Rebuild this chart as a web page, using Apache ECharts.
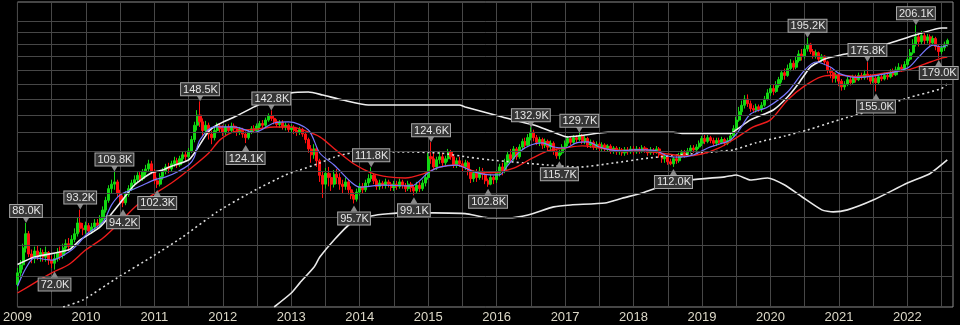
<!DOCTYPE html>
<html><head><meta charset="utf-8">
<script src="https://cdn.jsdelivr.net/npm/echarts@6/dist/echarts.min.js"></script>
<style>html,body{margin:0;padding:0;background:#000;}#c{width:960px;height:325px;}</style>
</head><body><div id="c"></div>
<script>
// ---------- x categories (semi-monthly) and tick labels ----------
const firstYear = 2009, lastCategory = '2022-09-01';
const yearTicks = ['2009','2010','2011','2012','2013','2014','2015','2016','2017','2018','2019','2020','2021','2022'];
const categories = [];
(function(){
  for (let y = firstYear; y <= 2022; y++) for (let m = 1; m <= 12; m++) for (const d of ['01','16']) {
    const s = y + '-' + String(m).padStart(2,'0') + '-' + d;
    if (categories.length && categories[categories.length-1] === lastCategory) return;
    categories.push(s);
  }
})();
// horizontal grid values (K)
const gridValues = [70,80,90,100,110,120,130,140,150,160,170,180,190,200,210];

// ---------- candles [open, close, low, high] in K, semi-monthly ----------
const c2009 = [[67.5,71,66,72.5],[71,73.5,69.5,75],[73.5,79,72,80.5],[79,84,77.5,88.0],[84,77,76,85],[77,75.5,74,78.5],[75.5,78,74,79.5],[78,76.5,75,80],[76.5,77.5,74.5,79],[77.5,76,74.5,78.5],[76,77.5,74.5,79.5],[77.5,75,73.5,78],[75,74,72.5,76.5],[74,75.5,72.0,77],[75.5,77.5,74.5,79],[77.5,76.5,75,79.5],[76.5,79,75.5,80.5],[79,80.5,77.5,82],[80.5,79.5,78,82.5],[79.5,82,78.5,83.5],[82,84,81,86],[84,88,83,90],[88,86,84.5,93.2],[86,85.5,83.5,88]];
const c2010 = [[85.5,87,84,88.5],[87,85,83.5,88],[85,86.5,84,88],[86.5,88,85,89.5],[88,87,85.5,89.5],[87,89.5,86,91],[89.5,93,88.5,94.5],[93,97,92,98.5],[97,102,96,103.5],[102,104,100,106],[104,105,101.5,109.8],[105,100,98.5,106],[100,97.5,96,101.5],[97.5,96,94.2,99],[96,99.5,95,101],[99.5,102,98.5,103.5],[102,104.5,101,106],[104.5,106,103,108],[106,108,104.5,109.5],[108,106.5,105,109.5],[106.5,109.5,105.5,111],[109.5,111,108,113],[111,113.5,110,115.5],[113.5,110,108.5,115]];
const c2011 = [[110,105.5,104,111],[105.5,104,102.3,107],[104,107.5,103,109],[107.5,110,106,111.5],[110,112,108.5,113.5],[112,111,109,114],[111,113.5,110,115],[113.5,115,112,117],[115,113,111.5,116.5],[113,116,112,117.5],[116,118,114.5,119.5],[118,117,115,120],[117,120,116,121.5],[120,126,119,128],[126,134,124.5,136],[134,140,131,143],[140,136,133,148.5],[136,131,128,138],[131,134,128,136.5],[134,129,126,135.5],[129,127,123.5,131],[127,131,125.5,133],[131,133.5,129.5,135.5],[133.5,132,130,135]];
const c2012 = [[132,130,128,134],[130,133,128.5,134.5],[133,131,129.5,134.5],[131,133.5,130,135.5],[133.5,132,129.5,135],[132,130,128,133.5],[130,131.5,128.5,133],[131.5,129,127,132.5],[129,127,124.1,130.5],[127,130,126,131.5],[130,132,129,133.5],[132,131,129.5,134],[131,133.5,130.5,135],[133.5,135,132,136.5],[135,134,132.5,137],[134,137,133,138.5],[137,139.5,136,141],[139.5,138,136.5,142.8],[138,136,134.5,140],[136,134.5,133,137.5],[134.5,135.5,132.5,137],[135.5,133,131.5,137],[133,134,131,135.5],[134,131.5,130,135]];
const c2013 = [[131.5,132.5,130,134.5],[132.5,131,129,134],[131,130,128,132.5],[130,131.5,128.5,133],[131.5,129,127.5,132.5],[129,126,124,130],[126,121,119,127],[121,118,114,123],[118,121,116,123.5],[121,115,112,122],[115,108,105,116],[108,104,98,110],[104,109,102,111.5],[109,107,103,112],[107,104,101,109],[104,108.5,102.5,110.5],[108.5,107,104,111],[107,104,101.5,109],[104,103,100,106],[103,105,101.5,107],[105,101.5,99.5,106],[101.5,99,97.5,103],[99,97.5,95.7,100.5],[97.5,100.5,96.5,102]];
const c2014 = [[100.5,103,99,104.5],[103,101.5,100,104.5],[101.5,104.5,100.5,106],[104.5,106.5,103,108.5],[106.5,108,105,111.8],[108,105.5,104,109],[105.5,103,101.5,106.5],[103,104.5,101.5,106],[104.5,103.5,102,105.5],[103.5,105,102,106.5],[105,104,102.5,106],[104,102.5,101,105],[102.5,104,101,105.5],[104,103,101.5,105.5],[103,105,102,106.5],[105,103.5,102,106],[103.5,102,100.5,104.5],[102,104,101,105.5],[104,102.5,100.5,105],[102.5,101,99.1,103.5],[101,103.5,100,105],[103.5,102,100.5,105],[102,104.5,101,106],[104.5,107,103,109]];
const c2015 = [[107,117,106,119],[117,116,113.5,124.6],[116,112,110.5,119],[112,115.5,110.5,117],[115.5,117,113.5,120],[117,114,112,119],[114,116,112.5,117.5],[116,119.5,114.5,121],[119.5,117,115.5,120.5],[117,113,111.5,118],[113,115,111.5,116.5],[115,113.5,112,117],[113.5,112,110,115],[112,114,110.5,115.5],[114,110,108,115],[110,106.5,104.5,111],[106.5,109,105,110.5],[109,107,105,111],[107,110,106,112],[110,108.5,106,111.5],[108.5,105.5,104,109.5],[105.5,104,102.8,106.5],[104,107,103.5,108.5],[107,106,104,108]];
const c2016 = [[106,109,104.5,110.5],[109,112,107.5,113.5],[112,110,108,114],[110,114,109,116],[114,118,113,120],[118,116,114,121],[116,121,115,122.5],[121,117,115.5,122],[117,122,116,123.5],[122,125,120.5,126.5],[125,123,121,127],[123,127,122,129],[127,130,125.5,132.9],[130,127,125,131.5],[127,124.5,123,128.5],[124.5,126,122.5,127.5],[126,123,121,127],[123,125,121.5,126.5],[125,122,120,126],[122,124,120.5,125.5],[124,120,118,125],[120,117.5,116,121],[117.5,119,115.7,120.5],[119,122,118,123.5]];
const c2017 = [[122,124,120.5,125.5],[124,126.5,122.5,128],[126.5,124.5,123,127.5],[124.5,127,123.5,128.5],[127,126,124,128.5],[126,128,125,129.7],[128,125,123.5,129],[125,126.5,123.5,128],[126.5,123,121.5,127.5],[123,124.5,121.5,126],[124.5,122,120.5,125.5],[122,123.5,120.5,125],[123.5,121.5,119.5,124.5],[121.5,123,120,124.5],[123,121,119.5,124],[121,122.5,119.5,123.5],[122.5,120,118.5,123.5],[120,121.5,118.5,122.5],[121.5,119.5,118,122.5],[119.5,120.5,118,122],[120.5,119,117.5,121.5],[119,120.5,117.5,122],[120.5,119.5,118,122],[119.5,121,118.5,122.5]];
const c2018 = [[121,119.5,118,122.5],[119.5,121,118.5,122.5],[121,120,118.5,122],[120,121.5,119,123],[121.5,120.5,119,122.5],[120.5,119,117.5,121.5],[119,120.5,118,122],[120.5,119.5,118,121.5],[119.5,121,118.5,122.5],[121,118,116.5,122],[118,116,114,119],[116,117,114,118.5],[117,114.5,113,117.5],[114.5,113.5,112.8,116],[113.5,116,112.0,117],[116,115,113.5,117.5],[115,117.5,114,119],[117.5,119,116.5,120.5],[119,118,116.5,120.5],[118,120,117,121.5],[120,121.5,119,123],[121.5,120.5,119,123],[120.5,122,119.5,123.5],[122,124,121,125.5]];
const c2019 = [[124,126.5,122.5,128],[126.5,125,123.5,128.5],[125,127,124,128.5],[127,125.5,124,128],[125.5,124,122.5,127],[124,125.5,122.5,127],[125.5,124.5,123,127],[124.5,126,123.5,127.5],[126,124,122.5,127],[124,125.5,123,127],[125.5,128,124.5,129.5],[128,132,127,134],[132,137,131,139],[137,142,136,145],[142,146,140,149],[146,150,144,152.5],[150,147,145,153],[147,144,142,149],[144,143,141.5,146],[143,145,141.5,147],[145,143.5,142,146.5],[143.5,146,142,148],[146,150,145,152],[150,154,149,156.5]];
const c2020 = [[154,157,152,159.5],[157,155,152.5,160],[155,159,154,162],[159,163,157.5,165],[163,168,161,170],[168,166,163,171],[166,171,165,174],[171,175,169,178],[175,172,169.5,177],[172,177,170.5,180],[177,182,175.5,185],[182,180,177,186],[180,186,178.5,189],[186,190,184,195.2],[190,184,182,191],[184,181,178.5,186],[181,183,178.5,185.5],[183,178,176,184],[178,180.5,176,182],[180.5,176,173.5,181],[176,170,167.5,177],[170,168,164,172],[168,164,161,169.5],[164,166,161,168]];
const c2021 = [[166,162,158.5,167.5],[162,158,155.5,163.5],[158,160,156,162],[160,163,158.5,165],[163,161,159,165],[161,164.5,160,166.5],[164.5,163,161,166.5],[163,166,162,168],[166,164.5,163,168],[164.5,167,163,170],[167,165,163,175.8],[165,162,160,167],[162,164,160.5,166.5],[164,161,155.0,165.5],[161,165,159.5,166.5],[165,163.5,162,167],[163.5,166,162.5,168],[166,165,163,168],[165,168,164,170.5],[168,166.5,165,171],[166.5,170,165.5,172.5],[170,172,168.5,175],[172,170.5,168.5,174],[170.5,174,169.5,176.5]];
const c2022 = [[174,178,172.5,181],[178,183,176.5,186],[183,190,181.5,194],[190,196,188,206.1],[196,192,188,199],[192,197,189.5,201],[197,193,190,199.5],[193,196,190.5,198.5],[196,191,188,198],[191,194.5,188.5,197],[194.5,188,185,196],[188,184,179.0,190],[184,187,182,189],[187,190,184.5,192],[190,193,188,194.5]];

// ---------- overlay lines [date, value K] ----------
const maFast = [['2009-01-01',67.0],['2009-02-16',72.5],['2009-04-01',75.7],['2009-07-01',75.0],['2009-10-01',77.7],['2009-11-16',80.1],['2010-01-01',83.6],['2010-04-01',88.4],['2010-05-16',95.1],['2010-07-01',99.3],['2010-09-01',101.4],['2010-11-01',103.6],['2011-01-01',105.9],['2011-03-01',107.3],['2011-05-01',109.6],['2011-07-01',112.9],['2011-08-01',116.8],['2011-09-01',125.8],['2011-11-16',133.0],['2012-03-01',133.0],['2012-06-16',130.0],['2012-10-01',135.3],['2012-12-16',135.9],['2013-04-01',131.3],['2013-06-01',118.9],['2013-08-16',112.9],['2013-11-16',104.9],['2014-01-01',102.7],['2014-05-01',103.6],['2014-10-01',103.2],['2015-01-01',109.2],['2015-03-01',111.9],['2015-06-01',112.9],['2015-09-01',109.6],['2015-12-01',108.2],['2016-01-16',108.2],['2016-03-01',112.9],['2016-05-01',119.5],['2016-07-01',123.1],['2016-09-01',124.2],['2016-11-01',122.0],['2017-01-01',121.5],['2017-03-01',124.2],['2017-05-01',124.7],['2017-07-01',122.0],['2017-09-01',120.5],['2017-11-01',120.0],['2018-01-01',120.5],['2018-03-01',120.5],['2018-05-01',120.0],['2018-07-01',117.4],['2018-09-01',116.8],['2018-11-16',117.9],['2019-02-01',121.5],['2019-04-01',123.5],['2019-06-01',125.8],['2019-07-16',131.0],['2019-09-16',140.6],['2019-12-16',144.9],['2020-04-01',154.6],['2020-07-01',169.9],['2020-09-01',175.9],['2020-11-16',172.1],['2021-01-01',167.5],['2021-04-01',164.6],['2021-08-01',166.3],['2022-01-01',171.3],['2022-03-01',179.7],['2022-05-16',189.2],['2022-07-01',187.6],['2022-08-01',189.0]];
const maSlow = [['2009-01-01',65.1],['2009-04-01',68.0],['2009-07-01',71.0],['2009-10-01',73.6],['2010-01-01',78.4],['2010-04-01',82.5],['2010-07-01',88.4],['2010-10-01',95.1],['2011-01-01',99.7],['2011-04-01',104.5],['2011-07-01',110.5],['2011-10-16',118.8],['2011-12-16',125.8],['2012-03-01',130.4],['2012-07-01',131.8],['2012-10-01',133.0],['2013-01-01',133.0],['2013-03-01',131.3],['2013-06-01',127.5],['2013-09-01',120.0],['2013-12-01',113.4],['2014-03-01',109.2],['2014-06-01',107.3],['2014-09-01',106.8],['2014-12-01',108.6],['2015-03-01',111.9],['2015-06-01',112.9],['2015-09-01',110.0],['2015-12-01',109.2],['2016-04-01',111.4],['2016-07-01',115.9],['2016-10-01',120.0],['2017-01-01',121.5],['2017-04-01',122.6],['2017-07-01',121.5],['2017-10-01',120.5],['2018-01-01',120.0],['2018-04-01',119.5],['2018-07-01',118.4],['2018-10-01',117.4],['2019-01-01',118.4],['2019-04-01',121.5],['2019-07-01',126.9],['2019-10-01',133.0],['2020-01-01',137.1],['2020-04-01',149.4],['2020-07-01',158.7],['2020-10-01',165.2],['2021-01-01',166.3],['2021-04-01',165.2],['2021-07-01',166.3],['2021-10-01',168.4],['2022-01-01',169.9],['2022-04-01',174.3],['2022-07-01',178.9],['2022-08-01',179.7]];
const upperBand = [['2009-01-01',73.6],['2009-04-01',76.0],['2009-10-01',78.4],['2009-12-01',81.8],['2010-03-16',86.5],['2010-07-01',95.9],['2010-09-16',103.6],['2010-12-16',109.2],['2011-02-16',110.5],['2011-03-16',111.8],['2011-07-01',115.4],['2011-08-01',118.8],['2011-10-16',130.4],['2011-12-01',134.1],['2012-03-01',138.8],['2012-06-16',145.0],['2012-09-01',149.4],['2013-01-01',154.0],['2013-04-01',154.6],['2013-06-16',152.6],['2013-10-01',149.4],['2014-02-16',146.2],['2015-06-16',146.2],['2015-07-16',144.9],['2016-02-01',138.8],['2016-07-16',134.1],['2016-11-01',130.0],['2017-01-16',127.4],['2017-04-16',128.5],['2017-08-16',130.0],['2018-02-01',130.0],['2018-08-01',130.0],['2018-09-16',129.4],['2019-06-01',129.4],['2019-07-01',131.3],['2019-09-16',137.1],['2020-01-16',143.1],['2020-04-01',151.3],['2020-06-01',160.7],['2020-08-01',172.1],['2020-10-16',178.1],['2021-01-16',181.5],['2021-04-01',183.5],['2021-10-01',190.9],['2022-03-16',199.2],['2022-07-01',203.6],['2022-08-01',203.6]];
const longAverage = [['2009-09-01',61.3],['2009-12-16',63.2],['2010-06-16',69.5],['2010-12-16',76.0],['2011-06-01',82.9],['2011-12-01',92.3],['2012-06-01',100.5],['2012-12-01',108.2],['2013-02-16',110.5],['2013-06-01',113.9],['2013-08-16',116.8],['2013-11-16',118.9],['2014-08-01',119.5],['2015-03-01',118.9],['2015-08-01',116.8],['2015-12-01',115.4],['2016-10-01',112.9],['2017-03-16',111.9],['2017-09-16',113.9],['2018-03-16',116.3],['2018-09-01',117.9],['2019-03-01',119.5],['2019-06-16',120.5],['2019-10-16',124.3],['2020-03-16',127.9],['2020-07-16',131.3],['2021-01-01',137.1],['2021-07-01',143.1],['2022-01-01',150.6],['2022-07-01',156.9],['2022-08-01',160.1]];
const lowerBand = [['2012-10-01',61.3],['2013-01-01',65.1],['2013-02-16',68.0],['2013-05-01',72.8],['2013-06-01',76.0],['2013-08-16',81.8],['2013-11-16',88.0],['2014-03-01',90.7],['2014-09-01',92.0],['2015-07-16',91.6],['2015-11-16',90.0],['2016-03-01',90.0],['2016-06-16',91.1],['2016-11-01',94.3],['2017-02-01',95.1],['2017-08-01',95.9],['2017-11-01',97.9],['2018-02-16',100.1],['2018-05-01',102.3],['2018-11-01',105.9],['2019-05-01',107.3],['2019-07-01',108.2],['2019-09-16',105.9],['2019-12-16',106.8],['2020-03-16',103.6],['2020-06-16',98.5],['2020-10-01',93.1],['2020-12-01',92.3],['2021-02-16',93.1],['2021-07-01',97.1],['2022-01-01',104.5],['2022-05-01',108.9],['2022-08-01',115.4]];

// ---------- annotated highs / lows ----------
const peakDates = ['2009-02-16','2009-12-01','2010-06-01','2011-09-01','2012-09-16','2014-03-01','2015-01-16','2016-07-01','2017-03-16','2020-07-16','2021-06-01','2022-02-16'];
const peakValues = [88.0,93.2,109.8,148.5,142.8,111.8,124.6,132.9,129.7,195.2,175.8,206.1];
const troughDates = ['2009-07-16','2010-07-16','2011-01-16','2012-05-01','2013-12-01','2014-10-16','2015-11-16','2016-12-01','2018-08-01','2021-07-16','2022-06-16'];
const troughValues = [72.0,94.2,102.3,124.1,95.7,99.1,102.8,115.7,112.0,155.0,179.0];

const candles = [].concat(c2009,c2010,c2011,c2012,c2013,c2014,c2015,c2016,c2017,c2018,c2019,c2020,c2021,c2022);

const labelBox = {
  show: true, color: '#e6e6e6', fontSize: 11, fontFamily: 'Liberation Sans',
  backgroundColor: '#363636', borderColor: '#a8a8a8', borderWidth: 1,
  padding: [1, 1, 0, 2], lineHeight: 11, formatter: p => p.name
};
const markData = [];
peakDates.forEach((d, k) => markData.push({
  name: peakValues[k].toFixed(1) + 'K', coord: [d, peakValues[k]],
  symbol: 'path://M0,0L8,0L4,6Z', symbolSize: [7, 6], symbolOffset: [0, -3],
  label: Object.assign({}, labelBox, {position: 'top', distance: 0})
}));
troughDates.forEach((d, k) => markData.push({
  name: troughValues[k].toFixed(1) + 'K', coord: [d, troughValues[k]],
  symbol: 'path://M4,0L8,6L0,6Z', symbolSize: [7, 6], symbolOffset: [0, 5],
  label: Object.assign({}, labelBox, {position: 'bottom', distance: 1})
}));

const chart = echarts.init(document.getElementById('c'), null, {renderer: 'canvas'});
chart.setOption({
  backgroundColor: '#000',
  animation: false,
  grid: {left: 16, right: 7, top: 2, bottom: 18, show: true, borderColor: '#8c8c8c', borderWidth: 1, backgroundColor: 'transparent'},
  xAxis: {
    type: 'category', data: categories, boundaryGap: false,
    axisLine: {show: false}, axisTick: {show: false},
    axisLabel: {
      interval: (i, v) => yearTicks.indexOf(v.slice(0,4)) >= 0 && v.slice(5) === '01-01',
      formatter: v => v.slice(0,4), color: '#dcd8c8', fontSize: 13, fontFamily: 'Liberation Sans', margin: 4
    },
    splitLine: {show: true, interval: (i) => i % 12 === 0, lineStyle: {color: '#474747', width: 1}}
  },
  yAxis: {
    type: 'log', min: 61.3, max: 227.7,
    axisLine: {show: false}, axisTick: {show: false}, axisLabel: {show: false}, splitLine: {show: false}
  },
  series: [
    {type: 'line', data: [], z: 1, silent: true,
     markLine: {silent: true, symbol: ['none','none'], label: {show: false}, animation: false,
       lineStyle: {color: '#474747', width: 1, type: 'solid'},
       data: gridValues.map(v => ({yAxis: v}))}},
    {type: 'candlestick', data: candles, z: 2, barWidth: 2.6,
     itemStyle: {color: '#12d812', color0: '#ff1010', borderColor: '#12d812', borderColor0: '#ff1010', borderWidth: 1}},
    {type: 'line', data: lowerBand, z: 3, showSymbol: false, smooth: 0.2, lineStyle: {color: '#e8e8e8', width: 1.6}},
    {type: 'line', data: longAverage, z: 3, showSymbol: false, smooth: 0.2, lineStyle: {color: '#dcdcdc', width: 1.6, type: [2, 3]}},
    {type: 'line', data: upperBand, z: 3, showSymbol: false, smooth: 0.2, lineStyle: {color: '#efefef', width: 1.6}},
    {type: 'line', data: maSlow, z: 4, showSymbol: false, smooth: 0.3, lineStyle: {color: '#ee1c1c', width: 1.4}},
    {type: 'line', data: maFast, z: 4, showSymbol: false, smooth: 0.3, lineStyle: {color: '#7878ff', width: 1.2}},
    {type: 'line', data: [], z: 10, silent: true,
     markPoint: {silent: true, animation: false, itemStyle: {color: '#8a8a8a'}, data: markData}}
  ]
});
</script>
</body></html>
